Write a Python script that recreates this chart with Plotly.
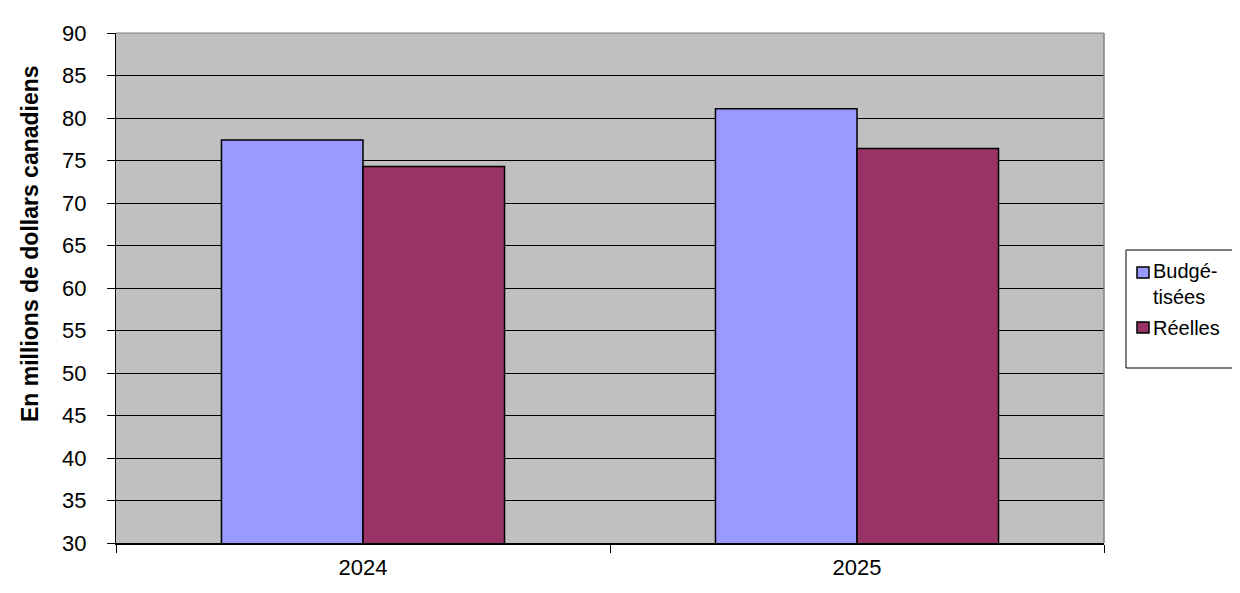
import plotly.graph_objects as go

years = ["2024", "2025"]
budgetisees = [77.4, 81.1]
reelles = [74.3, 76.4]
series_names = ["Budgé-<br>tisées", "Réelles"]
series_colors = ["#9999FF", "#993366"]
y_ticks = list(range(30, 95, 5))

# plot area in page pixels (page body has an 8px default margin)
PL, PR, PT, PB = 116, 1104, 33, 543


def px_x(px):
    return (px - PL) / (PR - PL)


def px_y(py):
    return (PB - py) / (PB - PT)


fig = go.Figure()
for vals, name, col in zip([budgetisees, reelles], series_names, series_colors):
    fig.add_trace(go.Bar(x=years, y=vals, name=name,
                         marker=dict(color=col, line=dict(color="black", width=1.5))))

font_family = "Liberation Sans, Arial, sans-serif"
fig.update_layout(
    width=1232, height=585,
    margin=dict(l=PL - 8, r=1240 - PR, t=PT - 8, b=593 - PB),
    paper_bgcolor="white",
    plot_bgcolor="#C0C0C0",
    barmode="group",
    bargap=0.427,
    bargroupgap=0,
    font=dict(family=font_family, size=22, color="black"),
    showlegend=False,
)
fig.update_xaxes(type="category", showgrid=False, ticks="outside", tickson="boundaries",
                 ticklen=8, tickcolor="black", showline=True, linecolor="black",
                 linewidth=1.5, tickfont=dict(size=22), ticklabelstandoff=4)
fig.update_yaxes(range=[30, 90], tickvals=y_ticks, ticks="outside", ticklen=8,
                 tickcolor="black", showline=True, linecolor="black", linewidth=1,
                 showgrid=True, gridcolor="black", gridwidth=1,
                 tickfont=dict(size=22), zeroline=False, ticklabelstandoff=16)
# plot area border
fig.add_shape(type="line", xref="paper", yref="paper", x0=0, x1=1, y0=1, y1=1,
              line=dict(color="#808080", width=1))
fig.add_shape(type="line", xref="paper", yref="paper", x0=1, x1=1, y0=0, y1=1,
              line=dict(color="#808080", width=1.5))

# legend box (manual)
fig.add_shape(type="rect", xref="paper", yref="paper",
              x0=px_x(1126), x1=px_x(1237), y0=px_y(368), y1=px_y(250),
              line=dict(color="black", width=1), fillcolor="white")
legend_rows = [(272.5, 258), (327.5, 327.5)]
for (sq_y, txt_y), name, col in zip(legend_rows, series_names, series_colors):
    fig.add_shape(type="rect", xref="paper", yref="paper",
                  x0=px_x(1137), x1=px_x(1149), y0=px_y(sq_y + 5.5), y1=px_y(sq_y - 5.5),
                  line=dict(color="black", width=1.5), fillcolor=col)
    multi = "<br>" in name
    fig.add_annotation(text=name, xref="paper", yref="paper",
                       x=px_x(1151), y=px_y(txt_y), xanchor="left",
                       yanchor="top" if multi else "middle", align="left",
                       showarrow=False, font=dict(size=20))

fig.add_annotation(text="<b>En millions de dollars canadiens</b>", textangle=-90,
                   xref="paper", yref="paper", x=px_x(30), y=px_y(244),
                   xanchor="center", yanchor="middle", showarrow=False,
                   font=dict(size=23))
fig.write_html("out.html")
